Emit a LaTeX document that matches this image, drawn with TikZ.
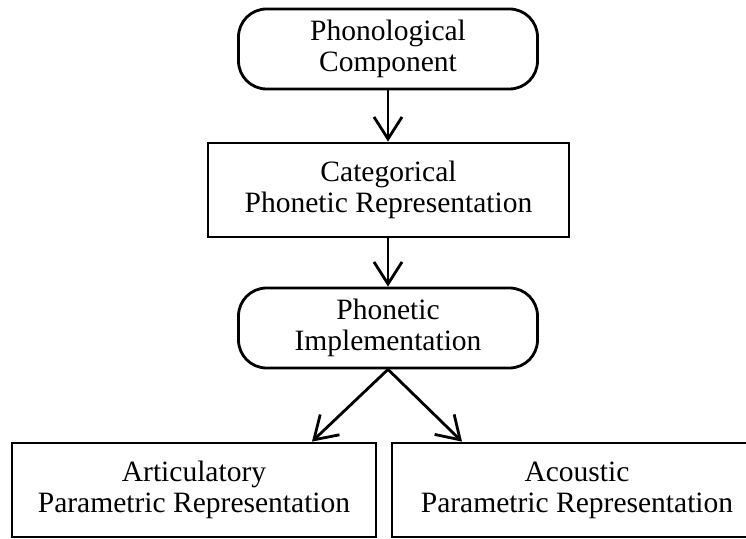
\documentclass[tikz,border=0pt]{standalone}
\usepackage{fontspec}
\setmainfont{Liberation Serif}
\usetikzlibrary{arrows.meta}

\begin{document}
\begin{tikzpicture}[
        every node/.style={font=\fontsize{21}{22}\selectfont, align=center, inner sep=0pt},
        roundbox/.style={draw, line width=2pt, rounded corners=0.7cm, minimum width=7.475cm, minimum height=2cm},
        squarebox/.style={draw, line width=2pt, minimum height=2.35cm},
        arr/.style={line width=2pt, -{Straight Barb[length=5.5mm,width=7mm]}}
    ]
        \path[use as bounding box, clip] (0,0) rectangle (18.65,13.45);
        \node[roundbox] (phon) at (9.7,12.225) {Phonological\\Component};
        \node[squarebox, minimum width=9.025cm] (cat) at (9.7125,8.7) {Categorical\\Phonetic Representation};
        \node[roundbox] (impl) at (9.7,5.25) {Phonetic\\Implementation};
        \node[squarebox, minimum width=9.1cm] (art) at (4.85,1.2) {Articulatory\\Parametric Representation};
        \node[squarebox, minimum width=9.25cm] (aco) at (14.425,1.2) {Acoustic\\Parametric Representation};
        \draw[arr] (phon.south) -- (phon.south |- cat.north);
        \draw[arr] (cat.south -| impl.north) -- (impl.north);
        \draw[arr] (impl.south) -- ([xshift=-1.9cm]impl.south |- art.north);
        \draw[arr] (impl.south) -- ([xshift=1.85cm]impl.south |- aco.north);
    \end{tikzpicture}
\end{document}
